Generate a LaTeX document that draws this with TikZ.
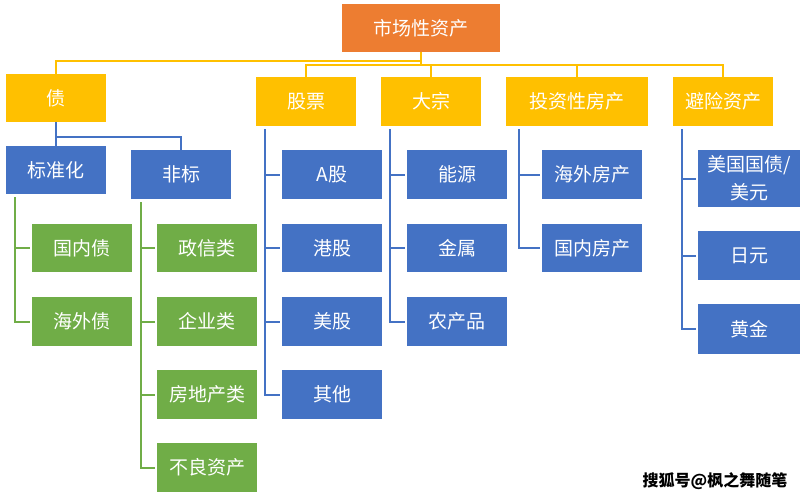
\documentclass[tikz,border=0pt]{standalone}
\usepackage{fontspec}
\setmainfont{Noto Sans CJK SC}
\definecolor{cor}{HTML}{ED7D31}
\definecolor{cye}{HTML}{FFC000}
\definecolor{cbl}{HTML}{4472C4}
\definecolor{cgr}{HTML}{70AD47}
\begin{document}
\begin{tikzpicture}[x=1pt,y=-1pt,
  box/.style={inner sep=0pt, outer sep=0pt, text=white, align=center,
    font=\fontsize{19}{28}\selectfont, minimum width=100pt, minimum height=49pt},
  orb/.style={box, fill=cor},
  yeb/.style={box, fill=cye},
  blb/.style={box, fill=cbl},
  grb/.style={box, fill=cgr},
  yl/.style={draw=cye, line width=2pt},
  bll/.style={draw=cbl, line width=2pt},
  gl/.style={draw=cgr, line width=2pt},
  stub/.style={shorten >=2pt}]
\fill[white] (0,0) rectangle (805,498);
\useasboundingbox (0,0) rectangle (805,498);
% level 0
\node[orb, minimum width=158pt, minimum height=48pt] (root) at (421,28) {市场性资产};
% level 1
\node[yeb, minimum height=48pt] (zhai) at (56,98) {债};
\node[yeb] (gp) at (306,101.5) {股票};
\node[yeb] (dz) at (431,101.5) {大宗};
\node[yeb, minimum width=142pt] (tz) at (577,101.5) {投资性房产};
\node[yeb] (bx) at (723,101.5) {避险资产};
% under zhai
\node[blb, minimum height=48pt] (bzh) at (56,170) {标准化};
\node[blb] (fb) at (181,174.5) {非标};
\node[grb, minimum height=48pt] (gnz) at (82,248) {国内债};
\node[grb] (hwz) at (82,321.5) {海外债};
\node[grb, minimum height=48pt] (zx) at (207,248) {政信类};
\node[grb] (qy) at (207,321.5) {企业类};
\node[grb] (fdc) at (207,394.5) {房地产类};
\node[grb] (blzc) at (207,467.5) {不良资产};
% under gp
\node[blb] (ag) at (332,174.5) {A股};
\node[blb, minimum height=48pt] (hg) at (332,248) {港股};
\node[blb] (mg) at (332,321.5) {美股};
\node[blb] (qt) at (332,394.5) {其他};
% under dz
\node[blb] (ny) at (457,174.5) {能源};
\node[blb, minimum height=48pt] (js) at (457,248) {金属};
\node[blb] (ncp) at (457,321.5) {农产品};
% under tz
\node[blb] (hwf) at (592,174.5) {海外房产};
\node[blb, minimum height=48pt] (gnf) at (592,248) {国内房产};
% under bx
\node[blb, minimum width=102pt, minimum height=57pt] (mgz) at (749,178.5) {美国国债/\\美元};
\node[blb, minimum width=102pt] (ry) at (749,255.5) {日元};
\node[blb, minimum width=102pt, minimum height=50pt] (hj) at (749,329) {黄金};
% watermark
\node[inner sep=0pt, font=\fontsize{16}{16}\selectfont\bfseries, text=black] (wm) at (715,481) {搜狐号@枫之舞随笔};
% root connectors
\coordinate (h1) at (421,61);
\coordinate (h2) at (421,65);
\draw[yl] (root.south) -- (h2);
\draw[yl] (h1) -| (zhai.north);
\draw[yl] (gp.north) -- (gp.north |- h2) -- (bx.north |- h2) -- (bx.north);
\draw[yl] (dz.north) -- (dz.north |- h2);
\draw[yl] (tz.north) -- (tz.north |- h2);
% zhai connectors
\coordinate (h3) at (56,137);
\draw[bll] (zhai.south) -- (bzh.north);
\draw[bll] (h3) -| (fb.north);
% rails
\coordinate (r1) at (15,197);
\draw[gl,stub] (r1) |- (gnz.west);
\draw[gl,stub] (r1) |- (hwz.west);
\coordinate (r2) at (141,202);
\draw[gl,stub] (r2) |- (zx.west);
\draw[gl,stub] (r2) |- (qy.west);
\draw[gl,stub] (r2) |- (fdc.west);
\draw[gl,stub] (r2) |- (blzc.west);
\coordinate (r3) at (265,129);
\draw[bll,stub] (r3) |- (ag.west);
\draw[bll,stub] (r3) |- (hg.west);
\draw[bll,stub] (r3) |- (mg.west);
\draw[bll,stub] (r3) |- (qt.west);
\coordinate (r4) at (390,129);
\draw[bll,stub] (r4) |- (ny.west);
\draw[bll,stub] (r4) |- (js.west);
\draw[bll,stub] (r4) |- (ncp.west);
\coordinate (r5) at (519,129);
\draw[bll,stub] (r5) |- (hwf.west);
\draw[bll,stub] (r5) |- (gnf.west);
\coordinate (r6) at (682,129);
\draw[bll,stub] (r6) |- (mgz.west);
\draw[bll,stub] (r6) |- (ry.west);
\draw[bll,stub] (r6) |- (hj.west);
\end{tikzpicture}
\end{document}
